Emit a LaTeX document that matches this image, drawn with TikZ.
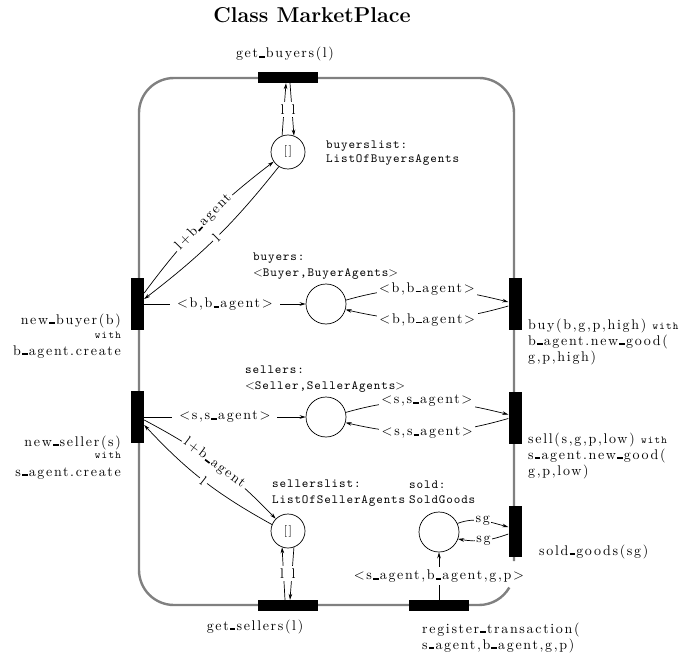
\documentclass[tikz,border=0pt]{standalone}
\usepackage{fontspec}
\usetikzlibrary{arrows.meta,calc}
\newfontfamily\rmsp{lmroman10-regular}[Extension=.otf,LetterSpace=12]
\newfontfamily\ttsp{lmmono10-regular}[Extension=.otf,LetterSpace=7]
\newfontfamily\ttsm{lmmono10-regular}[Extension=.otf,LetterSpace=12]
\newcommand\us{\kern0.08em\rule[-0.01em]{0.4em}{0.12em}\kern0.08em}
\newcommand\rmlab{\rmsp\fontsize{14}{16}\selectfont}
\newcommand\ttlab{\ttsp\fontsize{12.5}{15}\selectfont}
\newcommand\wth{{\ttsm\fontsize{10.5}{12}\selectfont with}}
\begin{document}
\begin{tikzpicture}[x=1pt,y=-1pt,
  border/.style={draw=black!50, line width=2.4pt},
  hbar/.style={fill=black, inner sep=0, minimum width=60pt, minimum height=11pt},
  vbar/.style={fill=black, inner sep=0, minimum width=13pt, minimum height=52pt},
  place/.style={circle, draw, line width=0.7pt, inner sep=0, minimum size=40pt},
  lplace/.style={place, minimum size=34pt, font=\rmsp\fontsize{12}{14}\selectfont},
  flow/.style={line width=0.7pt, -{Stealth[length=6pt,width=3.6pt]}},
  lbl/.style={fill=white, inner sep=2.5pt, font=\rmlab},
  nlbl/.style={fill=white, inner xsep=1.5pt, inner ysep=3pt, font=\rmlab},
  rmt/.style={inner sep=0, font=\rmlab},
  ttt/.style={inner sep=0, font=\ttlab}]
\useasboundingbox (0,0) rectangle (685,655);

\node[font=\bfseries\fontsize{21.5}{25}\selectfont, anchor=base] (title) at (312,23) {Class MarketPlace};

% border of the class
\draw[border, rounded corners=35pt] (514,561) -- (514,78) -- (139,78) -- (139,605) -- (479,605);
\draw[border] (479,605) arc[start angle=270, end angle=330, radius=35pt];

% transitions
\node[hbar] (tgb) at (288,77.5) {};
\node[hbar] (tgs) at (288,605.5) {};
\node[hbar] (trt) at (439,605.5) {};
\node[vbar] (tnb) at (137.5,304) {};
\node[vbar] (tns) at (137.5,417) {};
\node[vbar] (tbuy) at (515,304) {};
\node[vbar] (tsell) at (515,417.5) {};
\node[vbar, minimum height=51pt] (tsold) at (515,531) {};

% places
\node[lplace] (pbl) at (288,152) {[]};
\node[place] (pb) at (326,304) {};
\node[place] (ps) at (326,417) {};
\node[lplace] (psl) at (288,531) {[]};
\node[place] (psold) at (439,532) {};

% arcs
\draw[flow] (pbl.110) -- node[nlbl, xshift=-1.5pt]{l} ($(tgb.south)+(-2,0)$);
\draw[flow] ($(tgb.south)+(2,0)$) -- node[nlbl, xshift=1.5pt]{l} (pbl.70);
\draw[flow] ($(tgs.north)+(-3,0)$) -- node[nlbl, xshift=-1.5pt]{l} (psl.250);
\draw[flow] (psl.290) -- node[nlbl, xshift=1.5pt]{l} ($(tgs.north)+(2,0)$);

\draw[flow] ($(tnb.east)+(0,-11)$) to[bend left=8] node[lbl, sloped]{l+b\us agent} (pbl.214);
\draw[flow] (pbl.238) to[bend left=7] node[lbl, sloped]{l} ($(tnb.east)+(0,-5)$);
\draw[flow] ($(tns.east)+(0,3)$) to[bend left=9] node[lbl, sloped]{l+b\us agent} (psl.135);
\draw[flow] (psl.158) to[bend left=9] node[lbl, sloped]{l} ($(tns.east)+(0,8)$);

\draw[flow] (tnb.east) -- node[lbl, inner xsep=7pt]{<b,b\us agent>} (pb.west);
\draw[flow] (tns.east) -- node[lbl, inner xsep=7pt]{<s,s\us agent>} (ps.west);

\draw[flow] (pb.11) to[out=16, in=166] node[lbl]{<b,b\us agent>} ($(tbuy.west)+(0,-2)$);
\draw[flow] ($(tbuy.west)+(0,2)$) to[out=196, in=-13] node[lbl]{<b,b\us agent>} (pb.-16);
\draw[flow] (ps.13) to[out=16, in=166] node[lbl]{<s,s\us agent>} ($(tsell.west)+(0,-3)$);
\draw[flow] ($(tsell.west)+(0,1)$) to[out=196, in=-13] node[lbl]{<s,s\us agent>} (ps.-16);

\draw[flow] (psold.25) to[out=20, in=165] node[lbl, inner sep=1.5pt]{sg} ($(tsold.west)+(0,-4)$);
\draw[flow] ($(tsold.west)+(0,3)$) to[out=200, in=-10] node[lbl, inner sep=1.5pt]{sg} (psold.-20);

\draw[flow] (trt.north) -- node[lbl]{<s\us agent,b\us agent,g,p>} (psold.south);

% transition labels
\node[rmt, anchor=base] (lgb) at (285,58) {get\us buyers(l)};
\node[rmt, anchor=base] (lgs) at (255,630) {get\us sellers(l)};
\node[rmt, anchor=base west] (lrt1) at (422,633) {register\us transaction(};
\node[rmt, anchor=base west] (lrt2) at (422,649) {s\us agent,b\us agent,g,p)};
\node[rmt, anchor=base west] (lsg) at (539,555) {sold\us goods(sg)};

\node[rmt, anchor=base east] (lnb1) at (121,324) {new\us buyer(b)};
\node[rmt, anchor=base east] (lnb2) at (121,338) {\wth};
\node[rmt, anchor=base east] (lnb3) at (121,355) {b\us agent.create};
\node[rmt, anchor=base east] (lns1) at (121,446) {new\us seller(s)};
\node[rmt, anchor=base east] (lns2) at (121,458.5) {\wth};
\node[rmt, anchor=base east] (lns3) at (121,476) {s\us agent.create};

\node[rmt, anchor=base west] (lby1) at (528,329) {buy(b,g,p,high) \wth};
\node[rmt, anchor=base west] (lby2) at (528,345) {b\us agent.new\us good(};
\node[rmt, anchor=base west] (lby3) at (528,361) {g,p,high)};
\node[rmt, anchor=base west] (lsl1) at (528,443) {sell(s,g,p,low) \wth};
\node[rmt, anchor=base west] (lsl2) at (528,459) {s\us agent.new\us good(};
\node[rmt, anchor=base west] (lsl3) at (528,475) {g,p,low)};

% place labels
\node[ttt, anchor=base west] (lbl1) at (326,149) {buyerslist:};
\node[ttt, anchor=base west] (lbl2) at (326,163) {ListOfBuyersAgents};
\node[ttt, anchor=base west] (lb1) at (253,260) {buyers:};
\node[ttt, anchor=base west] (lb2) at (253,276) {{\rmsp<}Buyer,BuyerAgents{\rmsp>}};
\node[ttt, anchor=base west] (ls1) at (245,373) {sellers:};
\node[ttt, anchor=base west] (ls2) at (245,389) {{\rmsp<}Seller,SellerAgents{\rmsp>}};
\node[ttt, anchor=base west] (lsl1p) at (272,487) {sellerslist:};
\node[ttt, anchor=base west] (lsl2p) at (272,503) {ListOfSellerAgents};
\node[ttt, anchor=base west] (lso1) at (409,488) {sold:};
\node[ttt, anchor=base west] (lso2) at (409,503) {SoldGoods};
\end{tikzpicture}
\end{document}
